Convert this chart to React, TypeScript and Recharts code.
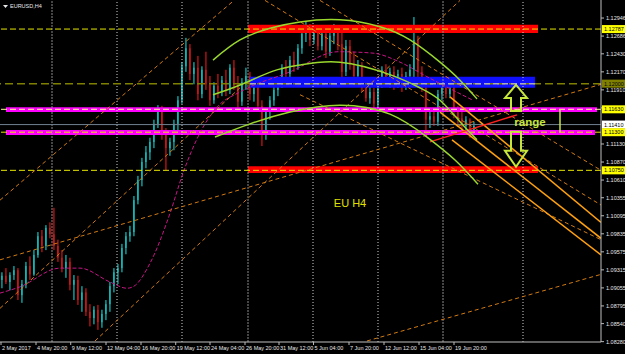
import {
  ComposedChart,
  XAxis,
  YAxis,
  Bar,
  Line,
  ReferenceLine,
  ReferenceArea,
  ReferenceDot,
} from 'recharts'

// EURUSD H4 candles, one per 8h step (index = x position)
const OPEN = [
  1.0917, 1.0923, 1.0914, 1.0924, 1.0931, 1.0895, 1.0911, 1.0937, 1.0925, 1.0953,
  1.0980, 1.0966, 1.0992, 1.0983, 1.0966, 1.0949, 1.0934, 1.0943, 1.0910, 1.0917,
  1.0888, 1.0899, 1.0871, 1.0862, 1.0874, 1.0856, 1.0868, 1.0882, 1.0908, 1.0928,
  1.0934, 1.0963, 1.0980, 1.0986, 1.1032, 1.1061, 1.1087, 1.1101, 1.1116, 1.1142,
  1.1162, 1.1130, 1.1107, 1.1116, 1.1142, 1.1176, 1.1225, 1.1251, 1.1214, 1.1223,
  1.1185, 1.1220, 1.1199, 1.1176, 1.1197, 1.1188, 1.1205, 1.1191, 1.1223, 1.1197,
  1.1174, 1.1202, 1.1211, 1.1185, 1.1197, 1.1168, 1.1127, 1.1159, 1.1176, 1.1191,
  1.1202, 1.1223, 1.1214, 1.1234, 1.1225, 1.1251, 1.1272, 1.1280, 1.1263, 1.1277,
  1.1254, 1.1272, 1.1246, 1.1269, 1.1277, 1.1257, 1.1217, 1.1254, 1.1228, 1.1211,
  1.1225, 1.1194, 1.1179, 1.1188, 1.1171, 1.1199, 1.1220, 1.1202, 1.1217, 1.1199,
  1.1214, 1.1197, 1.1211, 1.1220, 1.1263, 1.1217, 1.1194, 1.1148, 1.1153, 1.1145,
  1.1185, 1.1199, 1.1185, 1.1197, 1.1159, 1.1150, 1.1139, 1.1148, 1.1130,
]
const HIGH = [
  1.0928, 1.0934, 1.0928, 1.0937, 1.0934, 1.0917, 1.0943, 1.0951, 1.0960, 1.0986,
  1.0989, 1.0996, 1.1000, 1.1021, 1.0975, 1.0960, 1.0953, 1.0949, 1.0924, 1.0923,
  1.0908, 1.0905, 1.0882, 1.0879, 1.0881, 1.0874, 1.0888, 1.0914, 1.0934, 1.0940,
  1.0969, 1.0986, 1.0995, 1.1038, 1.1067, 1.1093, 1.1110, 1.1122, 1.1148, 1.1169,
  1.1168, 1.1136, 1.1122, 1.1148, 1.1182, 1.1231, 1.1266, 1.1257, 1.1231, 1.1240,
  1.1225, 1.1246, 1.1211, 1.1202, 1.1214, 1.1211, 1.1220, 1.1228, 1.1234, 1.1211,
  1.1208, 1.1223, 1.1217, 1.1205, 1.1202, 1.1176, 1.1165, 1.1182, 1.1199, 1.1208,
  1.1228, 1.1234, 1.1240, 1.1246, 1.1257, 1.1277, 1.1289, 1.1286, 1.1283, 1.1283,
  1.1277, 1.1280, 1.1274, 1.1286, 1.1283, 1.1277, 1.1263, 1.1263, 1.1246, 1.1234,
  1.1231, 1.1205, 1.1197, 1.1194, 1.1205, 1.1225, 1.1228, 1.1223, 1.1225, 1.1220,
  1.1223, 1.1217, 1.1228, 1.1296, 1.1269, 1.1225, 1.1199, 1.1162, 1.1165, 1.1191,
  1.1205, 1.1211, 1.1202, 1.1202, 1.1168, 1.1162, 1.1153, 1.1150, 1.1145,
]
const LOW = [
  1.0905, 1.0911, 1.0902, 1.0917, 1.0888, 1.0884, 1.0905, 1.0917, 1.0923, 1.0949,
  1.0957, 1.0960, 1.0977, 1.0960, 1.0943, 1.0928, 1.0920, 1.0902, 1.0888, 1.0881,
  1.0871, 1.0865, 1.0850, 1.0853, 1.0845, 1.0848, 1.0859, 1.0871, 1.0899, 1.0911,
  1.0928, 1.0954, 1.0972, 1.0980, 1.1026, 1.1052, 1.1078, 1.1090, 1.1107, 1.1136,
  1.1119, 1.1075, 1.1096, 1.1104, 1.1133, 1.1171, 1.1217, 1.1205, 1.1199, 1.1176,
  1.1179, 1.1191, 1.1168, 1.1171, 1.1179, 1.1182, 1.1182, 1.1185, 1.1191, 1.1165,
  1.1168, 1.1191, 1.1176, 1.1174, 1.1162, 1.1110, 1.1119, 1.1148, 1.1168, 1.1182,
  1.1194, 1.1205, 1.1208, 1.1217, 1.1220, 1.1243, 1.1260, 1.1254, 1.1257, 1.1248,
  1.1248, 1.1237, 1.1240, 1.1257, 1.1248, 1.1208, 1.1211, 1.1220, 1.1205, 1.1197,
  1.1188, 1.1174, 1.1171, 1.1165, 1.1165, 1.1194, 1.1197, 1.1194, 1.1191, 1.1194,
  1.1188, 1.1191, 1.1202, 1.1208, 1.1208, 1.1188, 1.1133, 1.1136, 1.1139, 1.1139,
  1.1176, 1.1179, 1.1179, 1.1150, 1.1142, 1.1133, 1.1130, 1.1122, 1.1127,
]
const CLOSE = [
  1.0923, 1.0914, 1.0924, 1.0931, 1.0895, 1.0911, 1.0937, 1.0925, 1.0953, 1.0980,
  1.0966, 1.0992, 1.0983, 1.0966, 1.0949, 1.0934, 1.0943, 1.0910, 1.0917, 1.0888,
  1.0899, 1.0871, 1.0862, 1.0874, 1.0856, 1.0868, 1.0882, 1.0908, 1.0928, 1.0934,
  1.0963, 1.0980, 1.0986, 1.1032, 1.1061, 1.1087, 1.1101, 1.1116, 1.1142, 1.1162,
  1.1130, 1.1107, 1.1116, 1.1142, 1.1176, 1.1225, 1.1251, 1.1214, 1.1223, 1.1185,
  1.1220, 1.1199, 1.1176, 1.1197, 1.1188, 1.1205, 1.1191, 1.1223, 1.1197, 1.1174,
  1.1202, 1.1211, 1.1185, 1.1197, 1.1168, 1.1127, 1.1159, 1.1176, 1.1191, 1.1202,
  1.1223, 1.1214, 1.1234, 1.1225, 1.1251, 1.1272, 1.1280, 1.1263, 1.1277, 1.1254,
  1.1272, 1.1246, 1.1269, 1.1277, 1.1257, 1.1217, 1.1254, 1.1228, 1.1211, 1.1225,
  1.1194, 1.1179, 1.1188, 1.1171, 1.1199, 1.1220, 1.1202, 1.1217, 1.1199, 1.1214,
  1.1197, 1.1211, 1.1220, 1.1263, 1.1217, 1.1194, 1.1148, 1.1153, 1.1145, 1.1185,
  1.1199, 1.1185, 1.1197, 1.1159, 1.1150, 1.1139, 1.1148, 1.1130, 1.1139,
]

// moving average (magenta dashed)
const MA_U = [-0.5, 4.5, 14.5, 19.5, 27, 31.25, 33, 37, 42, 45.25, 49.5, 53.75, 59.5, 72, 84, 92.75, 99.5, 106.25, 117.75]
const MA_P = [1.0898, 1.0907, 1.0934, 1.0934, 1.0914, 1.0905, 1.0908, 1.0941, 1.1013, 1.1071, 1.1129, 1.1166, 1.1188, 1.1217, 1.1246, 1.1244, 1.1231, 1.121, 1.1176]

// three green arcs
const ARC1_U = [52.75, 59.5, 67, 74.5, 84.5, 94.5, 102, 109.5, 114.5, 118.75]
const ARC1_P = [1.1234, 1.1263, 1.128, 1.1289, 1.1292, 1.1282, 1.1263, 1.1231, 1.1205, 1.1178]
const ARC2_U = [52.75, 59.5, 67.75, 74.5, 84.5, 97, 104.5, 109.5, 114.5, 118.75]
const ARC2_P = [1.1184, 1.1198, 1.1218, 1.1227, 1.1231, 1.1213, 1.1194, 1.1176, 1.1145, 1.1119]
const ARC3_U = [53.25, 62, 72, 84.5, 97, 106.25, 113.25, 119]
const ARC3_P = [1.1123, 1.1142, 1.1159, 1.1169, 1.1156, 1.1123, 1.109, 1.1055]

// trend lines [u1, p1, u2, p2]
const DASHED_LINES = [
  [-0.5, 1.1032, 58, 1.132],
  [-0.5, 1.0946, 149.75, 1.1199],
  [23.25, 1.0829, 114.5, 1.132],
  [-0.5, 1.0876, 59.5, 1.1194],
  [79.5, 1.132, 149.75, 1.1075],
  [65.75, 1.132, 149.75, 1.1025],
  [74.5, 1.1184, 149.75, 1.0975],
  [91.25, 1.0829, 149.75, 1.0925],
]
const SOLID_LINES = [
  [112, 1.1181, 149.75, 1.1],
  [109.5, 1.1159, 149.75, 1.0977],
  [112.5, 1.1119, 149.75, 1.0953],
]
const RED_LINE = [107, 1.1116, 128.75, 1.1155]

const GRID_U = [12.5, 28.75, 45, 61.5, 77.75, 94, 110.25, 130.25]
const GRID_DARK = [true, false, false, true, false, false, true, false]

const TIME_U = [-0.25, 8.5, 17.18, 26, 34.75, 43.43, 52, 60.75, 69.25, 77.88, 86.75, 95.5, 104.25, 113]
const TIME_LABELS = [
  '2 May 2017', '4 May 20:00', '9 May 12:00', '12 May 04:00', '16 May 20:00', '19 May 12:00',
  '24 May 04:00', '26 May 20:00', '31 May 12:00', '5 Jun 04:00', '7 Jun 20:00', '12 Jun 12:00',
  '15 Jun 04:00', '19 Jun 20:00',
]

const PRICE_TICKS = [
  1.12946, 1.12686, 1.1243, 1.1217, 1.1191, 1.1165, 1.1113, 1.1087, 1.1061,
  1.10355, 1.10095, 1.09835, 1.09575, 1.09315, 1.09055, 1.08795, 1.0854, 1.0828,
]
const TAG_PRICES = [1.12787, 1.12, 1.1163, 1.1141, 1.113, 1.1075]
const TAG_BG = ['#ffff00', '#808000', '#ffff00', '#ffffff', '#ffff00', '#ffff00']

const BULL = '#19e6e6'
const BEAR = '#ff1a1a'
const AXIS_TEXT = '#e8e8e8'
const FONT = 'Liberation Sans, Arial, sans-serif'
const LIME = '#c6e63a'
const ORANGE_D = '#d27a12'
const ORANGE_S = '#ffa010'

const candles = OPEN.map((o, i) => ({ u: i, open: o, high: HIGH[i], low: LOW[i], close: CLOSE[i] }))
const toPts = (us: number[], ps: number[]) => us.map((u, i) => ({ u, p: ps[i] }))

function Candle(props: any) {
  const { x, y, width, height, payload } = props
  const { open, close, high, low } = payload
  const top = Math.min(y, y + height)
  const h = Math.abs(height)
  const k = high > low ? h / (high - low) : 0
  const yo = top + (high - open) * k
  const yc = top + (high - close) * k
  const col = close >= open ? BULL : BEAR
  const cx = x + width / 2
  return (
    <g>
      <line x1={cx} x2={cx} y1={top} y2={top + h} stroke={col} strokeWidth={1} />
      <rect x={x} y={Math.min(yo, yc)} width={width} height={Math.max(1, Math.abs(yc - yo))} fill={col} />
    </g>
  )
}

function PriceTick(props: any) {
  const { x, y, payload } = props
  const v = payload.value
  const t = TAG_PRICES.indexOf(v)
  const label = v.toFixed(5)
  if (t >= 0) {
    return (
      <g>
        <rect x={x + 1} y={y - 4} width={23} height={8} fill={TAG_BG[t]} />
        <text x={x + 3} y={y + 2} fontSize={5.5} fontFamily={FONT} fill="#000">
          {label}
        </text>
      </g>
    )
  }
  return (
    <g>
      <line x1={x} x2={x + 3} y1={y} y2={y} stroke="#bbb" />
      <text x={x + 5} y={y + 2} fontSize={5.5} fontFamily={FONT} fill={AXIS_TEXT}>
        {label}
      </text>
    </g>
  )
}

function TimeTick(props: any) {
  const { x, y, payload } = props
  const i = TIME_U.indexOf(payload.value)
  return (
    <g>
      <line x1={x} x2={x} y1={y} y2={y + 3} stroke="#bbb" />
      <text x={x + 1} y={y + 8} fontSize={5.5} fontFamily={FONT} fill={AXIS_TEXT}>
        {TIME_LABELS[i]}
      </text>
    </g>
  )
}

const upArrow = ({ cx, cy }: any) => (
  <path
    transform={`translate(${cx},${cy})`}
    d="M0,-14 L11,-1 L5,-1 L5,12 L-5,12 L-5,-1 L-11,-1 Z"
    fill="none"
    stroke={LIME}
    strokeWidth={2}
  />
)
const downArrow = ({ cx, cy }: any) => (
  <path
    transform={`translate(${cx},${cy})`}
    d="M-5,-17 L5,-17 L5,2 L11,2 L0,18 L-11,2 L-5,2 Z"
    fill="none"
    stroke={LIME}
    strokeWidth={2}
  />
)

export default function App() {
  return (
    <div style={{ position: 'absolute', left: 0, top: 0, width: 625, height: 354, background: '#000', overflow: 'hidden' }}>
      <ComposedChart width={625} height={354} data={candles} margin={{ top: 0, right: 0, bottom: 0, left: 0 }}>
        <XAxis
          dataKey="u"
          type="number"
          domain={[-0.5, 149.75]}
          allowDataOverflow
          ticks={TIME_U}
          interval={0}
          tick={(p: any) => <TimeTick {...p} />}
          tickLine={false}
          tickSize={0}
          tickMargin={0}
          height={12}
          axisLine={{ stroke: '#c0c0c0' }}
        />
        <YAxis
          orientation="right"
          type="number"
          domain={[1.08275, 1.13206]}
          allowDataOverflow
          ticks={[...PRICE_TICKS, ...TAG_PRICES]}
          interval={0}
          tick={(p: any) => <PriceTick {...p} />}
          tickLine={false}
          tickSize={0}
          tickMargin={0}
          width={24}
          axisLine={{ stroke: '#c0c0c0' }}
        />

        {GRID_U.map((u, i) => (
          <ReferenceLine
            key={`g${i}`}
            x={u}
            stroke={GRID_DARK[i] ? '#8a8a8a' : '#d0d0d0'}
            strokeDasharray={GRID_DARK[i] ? '2 1' : '1 2'}
          />
        ))}

        <Line data={toPts(MA_U, MA_P)} dataKey="p" type="monotone" stroke="#c71585" strokeWidth={1} strokeDasharray="4 2" dot={false} isAnimationActive={false} />

        <Bar dataKey={(d: any) => [d.low, d.high]} barSize={3} shape={(p: any) => <Candle {...p} />} isAnimationActive={false} />

        <ReferenceArea x1={61.5} x2={134} y1={1.1273} y2={1.1285} fill="#ff0000" fillOpacity={1} stroke="none" ifOverflow="visible" zIndex={350} />
        <ReferenceArea x1={62} x2={133.25} y1={1.1194} y2={1.121} fill="#1010ff" fillOpacity={1} stroke="none" ifOverflow="visible" zIndex={350} />
        <ReferenceArea x1={1} x2={148.75} y1={1.1159} y2={1.1166} fill="#ff00ff" fillOpacity={1} stroke="none" ifOverflow="visible" zIndex={350} />
        <ReferenceArea x1={1} x2={148.25} y1={1.1126} y2={1.1133} fill="#ff00ff" fillOpacity={1} stroke="none" ifOverflow="visible" zIndex={350} />
        <ReferenceArea x1={61.5} x2={134} y1={1.1071} y2={1.1081} fill="#ff0000" fillOpacity={1} stroke="none" ifOverflow="visible" zIndex={350} />

        <ReferenceLine y={1.12787} stroke="#e6e600" strokeDasharray="6 3" />
        <ReferenceLine y={1.12} stroke="#808000" strokeWidth={1.5} strokeDasharray="8 4" />
        <ReferenceLine segment={[{ x: 62, y: 1.12 }, { x: 133.25, y: 1.12 }]} stroke="#a8a8c8" strokeWidth={1.5} strokeDasharray="6 3" />
        <ReferenceLine y={1.1163} stroke="#ffff90" strokeDasharray="6 3" />
        <ReferenceLine y={1.1141} stroke="#708090" />
        <ReferenceLine y={1.113} stroke="#e6e600" strokeDasharray="6 3" />
        <ReferenceLine y={1.1075} stroke="#e6e600" strokeDasharray="6 3" />

        {DASHED_LINES.map((l, i) => (
          <ReferenceLine
            key={`d${i}`}
            segment={[{ x: l[0], y: l[1] }, { x: l[2], y: l[3] }]}
            stroke={ORANGE_D}
            strokeDasharray="4 3"
            ifOverflow="hidden"
          />
        ))}
        {SOLID_LINES.map((l, i) => (
          <ReferenceLine
            key={`s${i}`}
            segment={[{ x: l[0], y: l[1] }, { x: l[2], y: l[3] }]}
            stroke={ORANGE_S}
            strokeWidth={1.5}
            ifOverflow="hidden"
          />
        ))}
        <ReferenceLine
          segment={[{ x: RED_LINE[0], y: RED_LINE[1] }, { x: RED_LINE[2], y: RED_LINE[3] }]}
          stroke="#ff2020"
          strokeWidth={1.5}
        />

        <Line data={toPts(ARC1_U, ARC1_P)} dataKey="p" type="natural" stroke="#9ad82e" strokeWidth={1.5} dot={false} isAnimationActive={false} />
        <Line data={toPts(ARC2_U, ARC2_P)} dataKey="p" type="natural" stroke="#9ad82e" strokeWidth={1.5} dot={false} isAnimationActive={false} />
        <Line data={toPts(ARC3_U, ARC3_P)} dataKey="p" type="natural" stroke="#9ad82e" strokeWidth={1.5} dot={false} isAnimationActive={false} />

        <ReferenceLine segment={[{ x: 139.5, y: 1.1163 }, { x: 139.5, y: 1.113 }]} stroke={LIME} strokeWidth={1.5} />
        <ReferenceDot x={128.5} y={1.1178} r={0} shape={upArrow} />
        <ReferenceDot x={128.5} y={1.1106} r={0} shape={downArrow} />
        <ReferenceDot
          x={132}
          y={1.1145}
          r={0}
          shape={({ cx, cy }: any) => (
            <text x={cx} y={cy + 4} textAnchor="middle" fontSize={11.5} fontWeight="bold" fontFamily={FONT} fill={LIME}>
              range
            </text>
          )}
        />
        <ReferenceDot
          x={87}
          y={1.1028}
          r={0}
          shape={({ cx, cy }: any) => (
            <text x={cx} y={cy + 4} textAnchor="middle" fontSize={11} fontFamily={FONT} fill="#e0e000">
              EU H4
            </text>
          )}
        />
      </ComposedChart>
      <svg width={60} height={14} style={{ position: 'absolute', left: 0, top: 0, pointerEvents: 'none' }}>
        <polygon points="3,5 8,5 5.5,8" fill="#e8e8e8" />
        <text x={10} y={8} fontSize={5.5} fontFamily={FONT} fill="#e8e8e8">
          EURUSD,H4
        </text>
      </svg>
    </div>
  )
}
